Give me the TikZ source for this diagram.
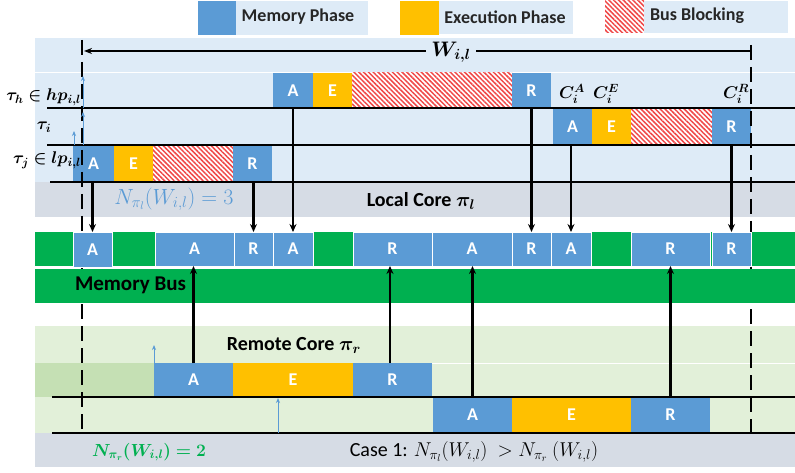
\documentclass[tikz,border=0pt]{standalone}
\usepackage{fix-cm}
\usepackage{amsmath,bm}
\usepackage{fontspec}
\setmainfont{Carlito}
\usetikzlibrary{patterns.meta,arrows.meta}
\definecolor{memblue}{HTML}{5B9BD5}
\definecolor{exeyel}{HTML}{FFC000}
\definecolor{busgreen}{HTML}{00B050}
\definecolor{lblue}{HTML}{DEEBF7}
\definecolor{lgrey}{HTML}{D6DCE5}
\definecolor{lgreen}{HTML}{E2F0D9}
\definecolor{mgreen}{HTML}{C5E0B4}
\definecolor{hatchred}{HTML}{F04848}
\definecolor{labgreen}{HTML}{00B050}
\newcommand{\blk}[7]{%
  \pgfmathsetmacro\myBx{(#3+#5)/2}\pgfmathsetmacro\myBy{(#4+#6)/2}%
  \pgfmathsetmacro\myBw{#5-#3}\pgfmathsetmacro\myBh{#6-#4}%
  \node[#2,minimum width=\myBw pt,minimum height=\myBh pt] (#1) at (\myBx,\myBy) {#7};}
\begin{document}
\begin{tikzpicture}[x=1pt,y=-1pt,
  every node/.style={inner sep=0pt, outer sep=0pt},
  pA/.style={fill=memblue, text=white, font=\fontsize{18}{21}\selectfont\bfseries},
  pE/.style={fill=exeyel, text=white, font=\fontsize{18}{21}\selectfont\bfseries},
  pH/.style={preaction={fill=white}, pattern={Lines[angle=-45,distance=3.4pt,line width=1.5pt]}, pattern color=hatchred},
  busbox/.style={pA, draw=white, line width=0.8pt},
  legbg/.style={fill=lblue},
  legtxt/.style={text=black!85, font=\fontsize{18}{21}\selectfont\bfseries},
  tl/.style={line width=1.5pt, black},
  conn/.style={line width=2.1pt, -{Stealth[length=8pt,width=7pt]}},
  rel/.style={memblue, line width=1pt, -{Stealth[length=5pt,width=4pt]}},
  dsh/.style={line width=1.6pt, dash pattern=on 15pt off 7pt},
  mlab/.style={font=\fontsize{17}{20}\selectfont},
  blab/.style={font=\fontsize{20}{24}\selectfont\bfseries},
]
\useasboundingbox (0,0) rectangle (795,473);
% legend
\blk{lgA}{pA}{198}{1}{236}{35}{}
\blk{lgAb}{legbg}{236}{1}{368}{35}{}
\node[legtxt] (lgAt) at (298,17) {Memory Phase};
\blk{lgE}{pE}{400}{1}{439}{35}{}
\blk{lgEb}{legbg}{439}{1}{573}{34}{}
\node[legtxt] (lgEt) at (505,17) {Execution Phase};
\blk{lgH}{pH}{605}{1}{644}{33}{}
\blk{lgHb}{legbg}{644}{1}{788}{33}{}
\node[legtxt] (lgHt) at (697,16) {Bus Blocking};
% panels
\fill[lblue] (35,38) rectangle (795,182);
\draw[white, line width=1pt] (35,73) -- (795,73);
\fill[lgrey] (35,182) rectangle (795,217);
\fill[lgreen] (35,326) rectangle (795,433);
\draw[white, line width=1pt] (35,363) -- (795,363);
\fill[mgreen] (35,363) rectangle (154,397);
\fill[lgrey] (35,433) rectangle (795,467);
% top boxes
\blk{hA}{pA}{273}{73}{313}{108}{A}
\blk{hE}{pE}{313}{73}{352}{108}{E}
\blk{hH}{pH}{352}{73}{512}{108}{}
\blk{hR}{pA}{512}{73}{551}{108}{R}
\blk{iA}{pA}{553}{108}{592}{145}{A}
\blk{iE}{pE}{592}{108}{631}{145}{E}
\blk{iH}{pH}{631}{108}{712}{145}{}
\blk{iR}{pA}{712}{108}{751}{145}{R}
\blk{jA}{pA}{73}{145}{114}{182}{A}
\blk{jE}{pE}{114}{145}{153}{182}{E}
\blk{jH}{pH}{153}{145}{233}{182}{}
\blk{jR}{pA}{233}{145}{272}{182}{R}
% remote boxes
\blk{rA}{pA}{154}{363}{233}{397}{A}
\blk{rE}{pE}{233}{363}{353}{397}{E}
\blk{rR}{pA}{353}{363}{432}{397}{R}
\blk{sA}{pA}{433}{397}{512}{433}{A}
\blk{sE}{pE}{512}{397}{631}{433}{E}
\blk{sR}{pA}{631}{397}{710}{433}{R}
% row lines
\draw[tl] (47,108) -- (795,108);
\draw[tl] (47,145) -- (795,145);
\draw[tl] (50,182) -- (795,182);
\draw[tl] (52,397) -- (795,397);
\draw[tl] (52,433) -- (795,433);
% dashed window lines
\draw[dsh] (82,40) -- (82,432);
\draw[dsh] (751,45) -- (751,432);
% memory bus
\fill[busgreen] (35,232) rectangle (795,266);
\fill[busgreen] (35,269) rectangle (795,303);
\blk{b1}{busbox}{73}{232}{112}{267}{A}
\blk{b2}{busbox}{155}{232}{234}{266}{A}
\blk{b3}{busbox}{234}{232}{273}{266}{R}
\blk{b4}{busbox}{273}{232}{313}{266}{A}
\blk{b5}{busbox}{353}{232}{432}{266}{R}
\blk{b6}{busbox}{432}{232}{512}{266}{A}
\blk{b7}{busbox}{512}{232}{551}{266}{R}
\blk{b8}{busbox}{551}{232}{591}{266}{A}
\blk{b9}{busbox}{631}{232}{710}{266}{R}
\blk{b10}{busbox}{712}{232}{751}{266}{R}
% window arrow
\coordinate (wl) at (84,51);
\coordinate (wr) at (751,51);
\draw[line width=1.3pt, -{Stealth[length=8pt,width=6pt]}] (wr) -- (wl);
\node[fill=lblue, inner xsep=5pt, font=\fontsize{21}{24}\selectfont] (W) at (451,52) {$\bm{W_{i,l}}$};
% labels
\node[mlab, anchor=east] (th) at (81,97) {$\bm{\tau_h \in hp_{i,l}}$};
\node[mlab] (ti) at (44,127) {$\bm{\tau_i}$};
\node[mlab, anchor=east] (tj) at (81,160) {$\bm{\tau_j \in lp_{i,l}}$};
\node[mlab] (cA) at (572,94) {$\bm{C_i^A}$};
\node[mlab] (cE) at (606,94) {$\bm{C_i^E}$};
\node[mlab] (cR) at (736,94) {$\bm{C_i^R}$};
\node[text=memblue, font=\fontsize{22}{26}\selectfont] (nl) at (174,199) {$N_{\pi_l}(W_{i,l}) = 3$};
\node[blab] (lc) at (421,201) {Local Core $\bm{\pi_l}$};
\node[blab, anchor=west, font=\fontsize{21}{24}\selectfont\bfseries] (mb) at (75,285) {Memory Bus};
\node[blab] (rc) at (294,345) {Remote Core $\bm{\pi_r}$};
\node[text=labgreen, font=\fontsize{17.5}{21}\selectfont] (nr) at (149,452) {$\bm{N_{\pi_r}(W_{i,l}) = 2}$};
\node[font=\fontsize{20}{24}\selectfont] (case) at (474,452) {Case 1: $N_{\pi_l}(W_{i,l})\ > N_{\pi_r}\ (W_{i,l})$};
% release arrows
\draw[rel] (83,108) -- (83,76);
\draw[rel] (83,145) -- (83,112);
\draw[rel] (jA.north -| 74,0) -- (74,131);
\draw[rel] (rA.north west) -- ++(0,-18);
\draw[rel] (278,433) -- (278,398);
% memory accesses
\draw[conn] (b1.north |- jA.south) -- (b1.north);
\draw[conn] (b3.north |- jR.south) -- (b3.north);
\draw[conn] (hA.south) -- (hA.south |- b4.north);
\draw[conn] (hR.south) -- (hR.south |- b7.north);
\draw[conn] (b8.north |- iA.south) -- (b8.north);
\draw[conn] (b10.north |- iR.south) -- (b10.north);
\draw[conn] (rA.north) -- (rA.north |- b2.south);
\draw[conn] (390,363) -- (390,266);
\draw[conn] (sA.north) -- (sA.north |- b6.south);
\draw[conn] (sR.north) -- (sR.north |- b9.south);
\end{tikzpicture}
\end{document}
